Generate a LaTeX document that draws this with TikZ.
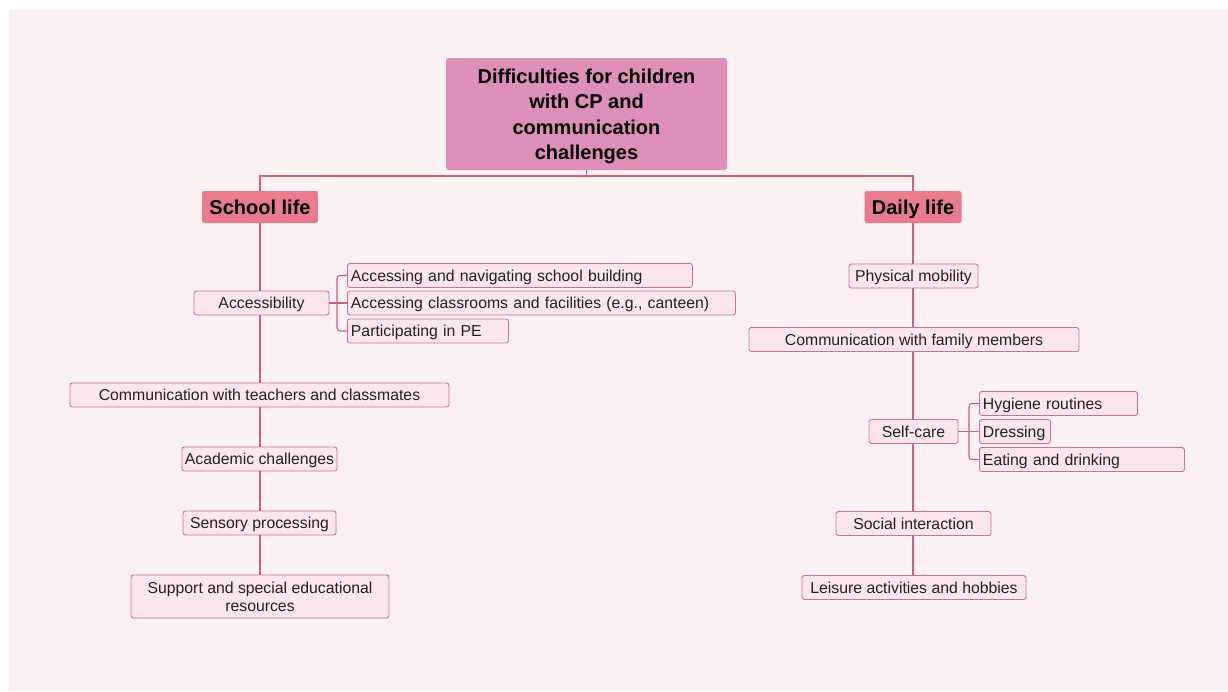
\documentclass[tikz,border=0pt]{standalone}
\usepackage{fontspec}
\setmainfont{Liberation Sans}
\usetikzlibrary{calc}

\definecolor{pagebg}{HTML}{FBF0F2}
\definecolor{boxfill}{HTML}{FBE6EB}
\definecolor{boxedge}{HTML}{CE7190}
\definecolor{linkcol}{HTML}{C9627E}
\definecolor{rootfill}{HTML}{DD8FB8}
\definecolor{catfill}{HTML}{E87C8E}
\definecolor{inkcol}{HTML}{222222}

\tikzset{
  itembase/.style={draw=boxedge, fill=boxfill, line width=0.9pt, rounded corners=2.5pt,
    inner xsep=0pt, inner ysep=0pt, minimum height=24pt, align=center,
    text=inkcol, font=\fontsize{15.8}{18}\selectfont},
  itembox/.style={itembase, text height=11.5pt, text depth=0pt},
  subbox/.style={itembox, anchor=west, align=left, inner xsep=3.5pt},
  catbox/.style={fill=catfill, rounded corners=2.5pt, inner sep=0pt, minimum height=32pt,
    text height=14.5pt, text depth=0pt,
    text=black, font=\bfseries\fontsize{20}{24}\selectfont},
  rootbox/.style={fill=rootfill, rounded corners=2.5pt, inner sep=0pt, minimum width=281pt,
    minimum height=112pt, align=center, text=black,
    font=\bfseries\fontsize{20}{25.5}\selectfont},
  link/.style={draw=linkcol, line width=1.1pt},
  fork/.style={link, rounded corners=3pt}
}

\begin{document}
\begin{tikzpicture}[x=1pt,y=-1pt]
  \useasboundingbox (0,0) rectangle (1228,691);
  \fill[pagebg] (9,10) rectangle (1228,691);

  % connector anchor points on the top bus and the two forks
  \coordinate (busL) at (260,176);
  \coordinate (busR) at (913,176);
  \coordinate (accfork) at (337,303);
  \coordinate (carefork) at (969,431.5);

  % root and the two branches (the strut lowers the text block a little)
  \node[rootbox] (root) at (586.5,114) {\rule{0pt}{19.5pt}Difficulties for children\\with CP and\\communication\\challenges};
  \node[catbox, minimum width=116pt] (school) at (260,207) {School life};
  \node[catbox, minimum width=97pt] (daily) at (913,207) {Daily life};

  % school life column
  \node[itembox, minimum width=135pt] (access) at (261.5,303) {Accessibility};
  \node[subbox, text width=338pt] (acc1) at (347,275.5) {Accessing and navigating school building};
  \node[subbox, text width=381pt] (acc2) at (347,303) {Accessing classrooms and facilities (e.g., canteen)};
  \node[subbox, text width=154pt] (acc3) at (347,331) {Participating in PE};
  \node[itembox, minimum width=379pt] (teach) at (259.5,395) {Communication with teachers and classmates};
  \node[itembox, minimum width=155pt] (acad) at (259.5,459) {Academic challenges};
  \node[itembox, minimum width=153pt] (sens) at (259.5,523) {Sensory processing};
  \node[itembase, minimum width=258pt, minimum height=43pt] (supp) at (260,596.5) {Support and special educational\\resources};

  % daily life column
  \node[itembox, minimum width=129pt] (mob) at (913.5,276) {Physical mobility};
  \node[itembox, minimum width=330pt] (fam) at (914,339.5) {Communication with family members};
  \node[itembox, minimum width=89pt] (self) at (913.5,431.5) {Self-care};
  \node[subbox, text width=151pt] (care1) at (979,403.5) {Hygiene routines};
  \node[subbox, text width=64pt] (care2) at (979,431.5) {Dressing};
  \node[subbox, text width=198pt] (care3) at (979,459.5) {Eating and drinking};
  \node[itembox, minimum width=155pt] (soc) at (913.5,523.5) {Social interaction};
  \node[itembox, minimum width=224pt] (leis) at (914,587.5) {Leisure activities and hobbies};

  % connectors
  \draw[link] (root.south) -- (root.south |- busL);
  \draw[link] (school.north) -- (busL) -- (busR) -- (daily.north);

  \draw[link] (school.south) -- (school.south |- access.north);
  \draw[link] (access.south -| school.south) -- (school.south |- teach.north);
  \draw[link] (teach.south -| school.south) -- (school.south |- acad.north);
  \draw[link] (acad.south -| school.south) -- (school.south |- sens.north);
  \draw[link] (sens.south -| school.south) -- (school.south |- supp.north);

  \draw[link] (daily.south) -- (daily.south |- mob.north);
  \draw[link] (mob.south -| daily.south) -- (daily.south |- fam.north);
  \draw[link] (fam.south -| daily.south) -- (daily.south |- self.north);
  \draw[link] (self.south -| daily.south) -- (daily.south |- soc.north);
  \draw[link] (soc.south -| daily.south) -- (daily.south |- leis.north);

  \draw[link] (access.east) -- (acc2.west);
  \draw[fork] (acc1.west) -| (accfork) |- (acc3.west);

  \draw[link] (self.east) -- (care2.west);
  \draw[fork] (care1.west) -| (carefork) |- (care3.west);
\end{tikzpicture}
\end{document}
